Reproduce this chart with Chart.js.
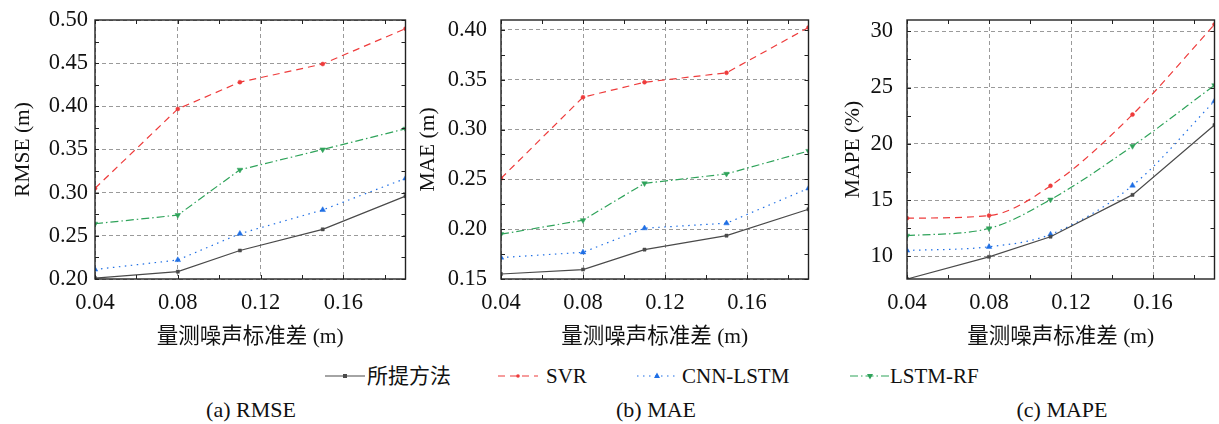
<!DOCTYPE html>
<html><head><meta charset="utf-8">
<script src="https://cdn.jsdelivr.net/npm/chart.js@4/dist/chart.umd.min.js"></script>
<style>
body{margin:0;width:1219px;height:424px;background:#fff;position:relative;overflow:hidden;font-family:"Liberation Serif","Noto Sans CJK SC",serif;color:#111;}
canvas{position:absolute;top:0;}
.lg{position:absolute;top:364px;height:24px;font-size:21px;line-height:24px;white-space:nowrap;}
.lgs{position:absolute;top:364px;}
.cap{position:absolute;top:398px;font-size:22px;line-height:24px;transform:translateX(-50%);white-space:nowrap;}
</style></head>
<body>
<canvas id="c1" width="410" height="350" style="left:0px"></canvas>
<canvas id="c2" width="401" height="350" style="left:412px"></canvas>
<canvas id="c3" width="404" height="350" style="left:815px"></canvas>
<div id="legend"></div>
<div class="cap" style="left:251px">(a) RMSE</div>
<div class="cap" style="left:656px">(b) MAE</div>
<div class="cap" style="left:1062px">(c) MAPE</div>
<script>
const noiseStd = [0.04, 0.08, 0.11, 0.15, 0.19];
const xTicks = [0.04, 0.08, 0.12, 0.16];
const seriesNames = ['所提方法', 'SVR', 'CNN-LSTM', 'LSTM-RF'];

const rmseProposed = [0.201, 0.2085, 0.233, 0.2575, 0.296];
const rmseSVR      = [0.305, 0.397, 0.428, 0.449, 0.490];
const rmseCNNLSTM  = [0.211, 0.222, 0.2525, 0.280, 0.3165];
const rmseLSTMRF   = [0.264, 0.274, 0.3265, 0.350, 0.374];
const rmseTicks = [0.20, 0.25, 0.30, 0.35, 0.40, 0.45, 0.50];

const maeProposed = [0.155, 0.1595, 0.1795, 0.1935, 0.220];
const maeSVR      = [0.251, 0.3325, 0.3475, 0.357, 0.4025];
const maeCNNLSTM  = [0.1715, 0.1768, 0.201, 0.206, 0.241];
const maeLSTMRF   = [0.195, 0.209, 0.246, 0.2555, 0.2785];
const maeTicks = [0.15, 0.20, 0.25, 0.30, 0.35, 0.40];

const mapeProposed = [8.0, 9.97, 11.75, 15.47, 21.67];
const mapeSVR      = [13.4, 13.63, 16.27, 22.6, 30.6];
const mapeCNNLSTM  = [10.53, 10.86, 11.96, 16.3, 23.8];
const mapeLSTMRF   = [11.84, 12.49, 15.05, 19.8, 25.2];
const mapeTicks = [10, 15, 20, 25, 30];

const FONT = '"Liberation Serif", "Noto Sans CJK SC", serif';
const styles = [
  {color:'#4a4a4a', dash:[], point:'rect', r:2.2, rot:0},
  {color:'#ee3b3b', dash:[7,5], point:'circle', r:2, rot:0},
  {color:'#1f6fe5', dash:[1.5,4.5], point:'triangle', r:3.2, rot:0},
  {color:'#2fa35a', dash:[8,3,1.5,3], point:'triangle', r:3.2, rot:180}
];

const framePlugin = {
  id:'frame',
  afterDatasetsDraw(chart, args, opts){
    const {ctx, chartArea:a} = chart;
    const x = chart.scales.x, y = chart.scales.y;
    ctx.save();
    ctx.strokeStyle = '#222';
    ctx.lineWidth = 1;
    const L = 4;
    ctx.beginPath();
    for (let v = opts.xStart; v <= x.max + 1e-9; v += opts.xStep) {
      const px = Math.round(x.getPixelForValue(v)) + 0.5;
      ctx.moveTo(px, a.bottom); ctx.lineTo(px, a.bottom - L);
      ctx.moveTo(px, a.top); ctx.lineTo(px, a.top + L);
    }
    for (let v = opts.yStart; v <= y.max + 1e-9; v += opts.yStep) {
      if (v < y.min - 1e-9) continue;
      const py = Math.round(y.getPixelForValue(v)) + 0.5;
      ctx.moveTo(a.left, py); ctx.lineTo(a.left + L, py);
      ctx.moveTo(a.right, py); ctx.lineTo(a.right - L, py);
    }
    ctx.stroke();
    ctx.lineWidth = 1.4;
    ctx.strokeRect(a.left, a.top, a.right - a.left, a.bottom - a.top);
    ctx.restore();
  }
};

function makeChart(id, opt){
  const datasets = opt.series.map((vals, i) => {
    const s = styles[i];
    return {
      label: seriesNames[i],
      data: noiseStd.map((x, k) => ({x, y: vals[k]})),
      borderColor: s.color,
      backgroundColor: s.color,
      borderWidth: 1.2,
      borderDash: s.dash,
      pointStyle: s.point,
      pointRadius: s.r,
      pointRotation: s.rot,
      pointBorderWidth: 0.5,
      pointBackgroundColor: s.color,
      pointBorderColor: s.color,
      cubicInterpolationMode: (opt.smooth && i > 0) ? 'monotone' : 'default',
      tension: 0
    };
  });
  return new Chart(document.getElementById(id), {
    type: 'line',
    data: {datasets},
    options: {
      responsive: false,
      animation: false,
      events: [],
      layout: {padding: {top: 20, right: opt.rightPad, left: 0, bottom: 0}},
      plugins: {legend: {display: false}, tooltip: {enabled: false},
        frame: {xStart: 0.04, xStep: 0.02, yStart: opt.minorStart, yStep: opt.minorStep}},
      scales: {
        x: {
          type: 'linear', min: 0.04, max: 0.19,
          afterBuildTicks: s => { s.ticks = xTicks.map(v => ({value: v})); },
          afterFit: s => { s.height = 71; s.paddingLeft = 0; s.paddingRight = 0; },
          ticks: {font: {family: FONT, size: 22.5}, color: '#111', padding: 11, maxRotation: 0,
            callback: v => Number(v).toFixed(2)},
          grid: {color: '#9a9a9a', lineWidth: 1, drawTicks: false},
          border: {display: false, dash: [4, 3]},
          title: {display: true, text: '量测噪声标准差 (m)', font: {family: FONT, size: 21.5}, color: '#111',
            padding: {top: 0, bottom: 0}}
        },
        y: {
          type: 'linear', min: opt.yMin, max: opt.yMax,
          afterBuildTicks: s => { s.ticks = opt.yTicks.map(v => ({value: v})); },
          afterFit: s => { s.width = opt.yWidth; s.paddingTop = 0; s.paddingBottom = 0; },
          ticks: {font: {family: FONT, size: 22.5}, color: '#111', padding: opt.tickPad,
            callback: v => Number(v).toFixed(opt.dec)},
          grid: {color: '#9a9a9a', lineWidth: 1, drawTicks: false},
          border: {display: false, dash: [4, 3]},
          title: {display: true, text: opt.yTitle, font: {family: FONT, size: 21.5}, color: '#111',
            padding: {top: opt.titlePad, bottom: 0}}
        }
      }
    },
    plugins: [framePlugin]
  });
}

makeChart('c1', {series: [rmseProposed, rmseSVR, rmseCNNLSTM, rmseLSTMRF],
  yMin: 0.20, yMax: 0.50, yTicks: rmseTicks, dec: 2, yTitle: 'RMSE (m)', tickPad: 7,
  yWidth: 95, titlePad: 10, rightPad: 2, minorStart: 0.20, minorStep: 0.025, smooth: false});
makeChart('c2', {series: [maeProposed, maeSVR, maeCNNLSTM, maeLSTMRF],
  yMin: 0.15, yMax: 0.41, yTicks: maeTicks, dec: 2, yTitle: 'MAE (m)', tickPad: 14,
  yWidth: 89, titlePad: 3, rightPad: 2, minorStart: 0.15, minorStep: 0.025, smooth: false});
makeChart('c3', {series: [mapeProposed, mapeSVR, mapeCNNLSTM, mapeLSTMRF],
  yMin: 8, yMax: 31, yTicks: mapeTicks, dec: 0, yTitle: 'MAPE (%)', tickPad: 14,
  yWidth: 92, titlePad: 25, rightPad: 1, minorStart: 7.5, minorStep: 2.5, smooth: true});

// legend
const legendSampleX = [325, 498, 637, 850];
const legendTextX = [367, 546, 682, 890];
const lg = document.getElementById('legend');
seriesNames.forEach((name, i) => {
  const s = styles[i];
  const cx = 20, cy = 12;
  let marker = '';
  if (s.point === 'rect') marker = `<rect x="${cx-2}" y="${cy-2}" width="4" height="4" fill="${s.color}"/>`;
  else if (s.point === 'circle') marker = `<circle cx="${cx}" cy="${cy}" r="1.8" fill="${s.color}"/>`;
  else if (s.rot === 0) marker = `<polygon points="${cx},${cy-3.5} ${cx-3},${cy+2} ${cx+3},${cy+2}" fill="${s.color}"/>`;
  else marker = `<polygon points="${cx},${cy+3.5} ${cx-3},${cy-2} ${cx+3},${cy-2}" fill="${s.color}"/>`;
  const dash = s.dash.length ? `stroke-dasharray="${s.dash.join(' ')}"` : '';
  const svg = `<svg class="lgs" style="left:${legendSampleX[i]}px" width="40" height="24"><line x1="0" y1="${cy}" x2="40" y2="${cy}" stroke="${s.color}" stroke-width="1.2" ${dash}/>${marker}</svg>`;
  lg.insertAdjacentHTML('beforeend', svg + `<div class="lg" style="left:${legendTextX[i]}px">${name}</div>`);
});
</script>
</body></html>
